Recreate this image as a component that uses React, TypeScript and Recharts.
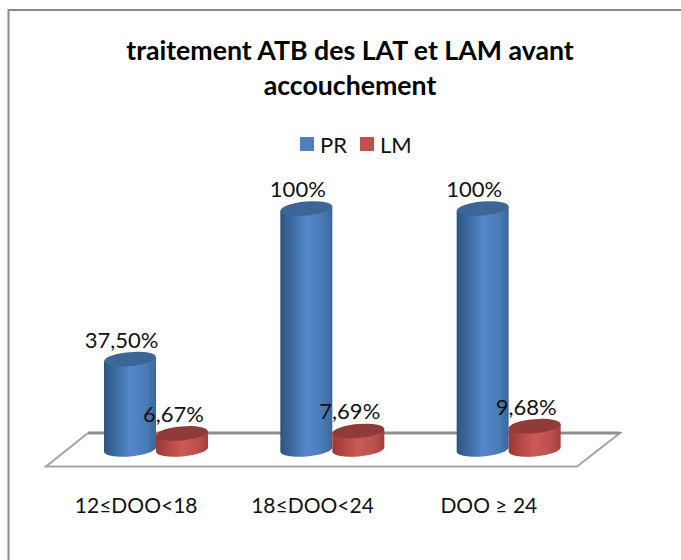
import React from "react";
import { BarChart, Bar, XAxis, YAxis, Legend, LabelList, Customized } from "recharts";

const categories = ["12≤DOO<18", "18≤DOO<24", "DOO ≥ 24"];
const prValues = [37.5, 100, 100];
const lmValues = [6.67, 7.69, 9.68];
const prLabels = ["37,50%", "100%", "100%"];
const lmLabels = ["6,67%", "7,69%", "9,68%"];
const titleLines = ["traitement ATB des LAT et LAM avant", "accouchement"];
const seriesNames = ["PR", "LM"];
const seriesColors = ["#4f81bd", "#c0504d"];

const data = categories.map((c, i) => ({
  name: c,
  PR: prValues[i],
  LM: lmValues[i],
}));

const FONT = "Lato, Carlito, 'Open Sans', sans-serif";
const TILT = 5;

const cylinder = (topColor: string) => (props: any) => {
  const { x, y, width, height, fill } = props;
  const rx = width / 2;
  const ry = 7;
  const cx = x + rx;
  const d = rx * Math.sin((TILT * Math.PI) / 180);
  const base = y + height;
  const path = `M${x},${y + d} L${x},${base + d} A${rx},${ry} ${-TILT} 0 0 ${x + width},${base - d} L${x + width},${y - d} Z`;
  return (
    <g>
      <path d={path} fill={fill} />
      <ellipse cx={cx} cy={y} rx={rx} ry={ry} fill={topColor} transform={`rotate(${-TILT} ${cx} ${y})`} />
    </g>
  );
};

const Floor = () => (
  <g fill="none">
    <polyline points="88,433 620,433 577,466.5 46,466.5 88,433" stroke="#a3a3a3" strokeWidth={2} />
    <line x1={88} y1={433} x2={620} y2={433} stroke="#8f8f8f" strokeWidth={3} />
  </g>
);

const Frame = () => (
  <path d="M8.5,560 L8.5,10 L681,10" fill="none" stroke="#8a8a8a" strokeWidth={2} />
);

const Title = () => (
  <text textAnchor="middle" fontFamily={FONT} fontWeight={700} fontSize={26.7} fill="#000">
    <tspan x={350} y={60}>{titleLines[0]}</tspan>
    <tspan x={350} y={95}>{titleLines[1]}</tspan>
  </text>
);

const Tick = (props: any) => {
  const { x, payload } = props;
  return (
    <text x={x - 20} y={513} textAnchor="middle" fontFamily={FONT} fontSize={21} fill="#111">
      {payload.value}
    </text>
  );
};

const makeLabel = (labels: string[]) => (props: any) => {
  const { x, y, width, index } = props;
  return (
    <text x={x + width / 2 - 8.5} y={y - 11.5} textAnchor="middle" fontFamily={FONT} fontSize={22} fill="#111">
      {labels[index]}
    </text>
  );
};

const LegendContent = () => (
  <div style={{ display: "flex", alignItems: "center", height: 28, fontFamily: FONT, fontSize: 22, color: "#111" }}>
    {seriesNames.map((n, i) => (
      <div key={n} style={{ display: "flex", alignItems: "center", width: 60 }}>
        <span style={{ display: "inline-block", width: 14, height: 14, background: seriesColors[i], marginRight: 6 }} />
        <span>{n}</span>
      </div>
    ))}
  </div>
);

export default function App() {
  return (
    <div style={{ position: "absolute", left: 0, top: 0, width: 681, height: 560 }}>
      <BarChart
        width={681}
        height={560}
        data={data}
        barGap={0}
        barSize={52}
        margin={{ top: 208.5, right: 84, bottom: 50.5, left: 68 }}
      >
        <defs>
          <linearGradient id="gradPR" x1="0" y1="0" x2="1" y2="0">
            <stop offset="0" stopColor="#2c5480" />
            <stop offset="0.5" stopColor="#5288cb" />
            <stop offset="0.8" stopColor="#4a7cb8" />
            <stop offset="1" stopColor="#3a679c" />
          </linearGradient>
          <linearGradient id="gradLM" x1="0" y1="0" x2="1" y2="0">
            <stop offset="0" stopColor="#9c3735" />
            <stop offset="0.5" stopColor="#cd5a57" />
            <stop offset="0.8" stopColor="#bd504d" />
            <stop offset="1" stopColor="#9f403e" />
          </linearGradient>
        </defs>
        <Customized component={Frame} />
        <Customized component={Floor} />
        <Customized component={Title} />
        <XAxis dataKey="name" axisLine={false} tickLine={false} height={60} tick={<Tick />} interval={0} />
        <YAxis hide domain={[0, 100]} />
        <Legend
          verticalAlign="middle"
          content={<LegendContent />}
          wrapperStyle={{ position: "absolute", top: 130, left: 300, width: 130, height: 28 }}
        />
        <Bar dataKey="PR" fill="url(#gradPR)" shape={cylinder("#3d6595")} isAnimationActive={false}>
          <LabelList dataKey="PR" content={makeLabel(prLabels)} />
        </Bar>
        <Bar dataKey="LM" fill="url(#gradLM)" shape={cylinder("#8f3b39")} isAnimationActive={false}>
          <LabelList dataKey="LM" content={makeLabel(lmLabels)} />
        </Bar>
      </BarChart>
    </div>
  );
}
